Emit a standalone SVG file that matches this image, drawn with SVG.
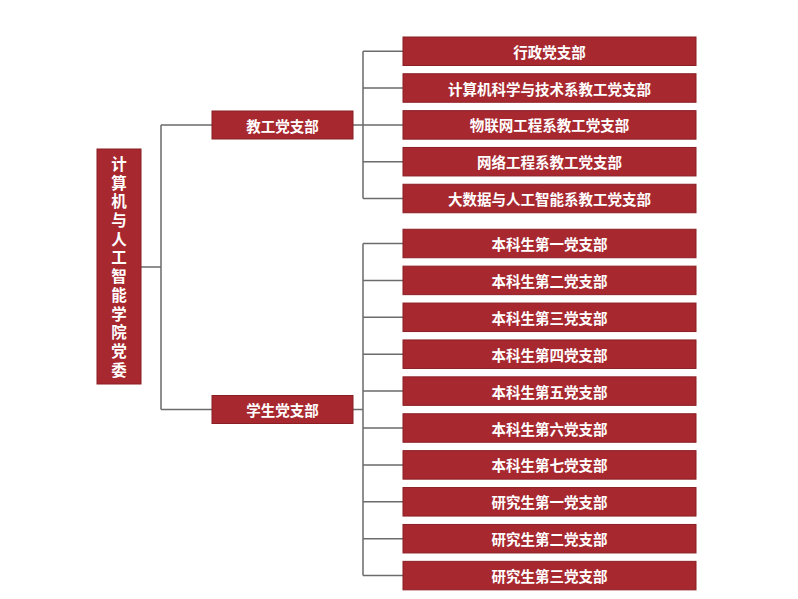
<svg xmlns="http://www.w3.org/2000/svg" width="798" height="599" viewBox="0 0 798 599">
<style>
.box{fill:#a82830;stroke:#8a1e25;stroke-width:1}
.t{fill:#ffffff;font-family:"Noto Sans CJK SC","Noto Sans",sans-serif;font-weight:bold;font-size:14.5px;text-anchor:middle;dominant-baseline:central}
.rt{font-size:15.5px;writing-mode:vertical-rl;letter-spacing:3.2px}
.c{fill:none;stroke:#6b6b6b;stroke-width:1.5}
</style>
<rect width="798" height="599" fill="#ffffff"/>
<g id="connectors">
<path class="c" d="M141,267H161M161,125V409.5M161,125H212M161,409.5H212"/>
<path class="c" d="M353,125H363M363,51.25V198.5M363,51.25H403M363,88H403M363,124.9H403M363,161.7H403M363,198.5H403"/>
<path class="c" d="M353,409.5H363M363,243.5V575.6M363,243.5H403M363,280.4H403M363,317.3H403M363,354.2H403M363,391.1H403M363,428H403M363,464.9H403M363,501.8H403M363,538.7H403M363,575.6H403"/>
</g>
<g id="root">
<rect class="box" x="97" y="149" width="44" height="235"/>
<text class="t rt" x="119" y="268.5">计算机与人工智能学院党委</text>
</g>
<g id="n-jg"><rect class="box" x="212" y="111" width="141" height="28"/><text class="t" x="282.5" y="125">教工党支部</text></g>
<g id="n-xs"><rect class="box" x="212" y="395.5" width="141" height="28"/><text class="t" x="282.5" y="409.5">学生党支部</text></g>
<g id="t1"><rect class="box" x="403" y="37" width="293" height="28.5"/><text class="t" x="549.5" y="51.25">行政党支部</text></g>
<g id="t2"><rect class="box" x="403" y="73.75" width="293" height="28.5"/><text class="t" x="549.5" y="88">计算机科学与技术系教工党支部</text></g>
<g id="t3"><rect class="box" x="403" y="110.65" width="293" height="28.5"/><text class="t" x="549.5" y="124.9">物联网工程系教工党支部</text></g>
<g id="t4"><rect class="box" x="403" y="147.45" width="293" height="28.5"/><text class="t" x="549.5" y="161.7">网络工程系教工党支部</text></g>
<g id="t5"><rect class="box" x="403" y="184.25" width="293" height="28.5"/><text class="t" x="549.5" y="198.5">大数据与人工智能系教工党支部</text></g>
<g id="s1"><rect class="box" x="403" y="229.25" width="293" height="28.5"/><text class="t" x="549.5" y="243.5">本科生第一党支部</text></g>
<g id="s2"><rect class="box" x="403" y="266.15" width="293" height="28.5"/><text class="t" x="549.5" y="280.4">本科生第二党支部</text></g>
<g id="s3"><rect class="box" x="403" y="303.05" width="293" height="28.5"/><text class="t" x="549.5" y="317.3">本科生第三党支部</text></g>
<g id="s4"><rect class="box" x="403" y="339.95" width="293" height="28.5"/><text class="t" x="549.5" y="354.2">本科生第四党支部</text></g>
<g id="s5"><rect class="box" x="403" y="376.85" width="293" height="28.5"/><text class="t" x="549.5" y="391.1">本科生第五党支部</text></g>
<g id="s6"><rect class="box" x="403" y="413.75" width="293" height="28.5"/><text class="t" x="549.5" y="428">本科生第六党支部</text></g>
<g id="s7"><rect class="box" x="403" y="450.65" width="293" height="28.5"/><text class="t" x="549.5" y="464.9">本科生第七党支部</text></g>
<g id="s8"><rect class="box" x="403" y="487.55" width="293" height="28.5"/><text class="t" x="549.5" y="501.8">研究生第一党支部</text></g>
<g id="s9"><rect class="box" x="403" y="524.45" width="293" height="28.5"/><text class="t" x="549.5" y="538.7">研究生第二党支部</text></g>
<g id="s10"><rect class="box" x="403" y="561.35" width="293" height="28.5"/><text class="t" x="549.5" y="575.6">研究生第三党支部</text></g>
</svg>
